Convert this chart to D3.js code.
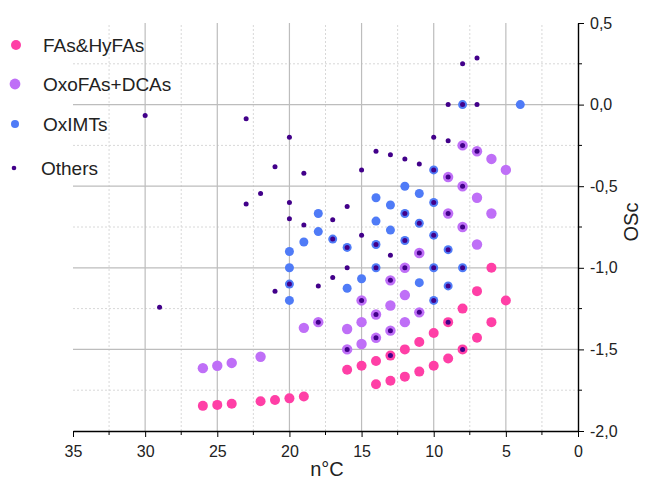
<!DOCTYPE html>
<html lang="en">
  <head>
    <meta charset="utf-8" />
    <title>OSc vs nC</title>
    <script src="https://d3js.org/d3.v7.min.js"></script>
    <style>
      body { margin: 0; background: #fff; }
      text { font-family: "Liberation Sans", Arial, sans-serif; }
    </style>
  </head>
  <body>
    <div id="chart"></div>
    <script>
      // [n°C, OSc]
      const fasHyfas = [
        [5, -1.2], [6, -1.0], [6, -1.333], [7, -1.143], [7, -1.429], [8, -1.25], [8, -1.5],
        [9, -1.333], [9, -1.556], [10, -1.4], [10, -1.6], [11, -1.455], [11, -1.636],
        [12, -1.5], [12, -1.667], [13, -1.538], [13, -1.692], [14, -1.571], [14, -1.714],
        [15, -1.6], [16, -1.625], [19, -1.789], [20, -1.8], [21, -1.81], [22, -1.818],
        [24, -1.833], [25, -1.84], [26, -1.846]
      ];
      const oxoDcas = [
        [5, -0.4], [6, -0.333], [6, -0.667], [7, -0.286], [7, -0.571], [7, -0.857],
        [8, -0.25], [8, -0.5], [8, -0.75], [9, -0.444], [9, -0.667], [11, -0.909],
        [11, -1.273], [12, -1.0], [12, -1.167], [12, -1.333], [13, -1.077], [13, -1.231],
        [13, -1.385], [14, -1.286], [14, -1.429], [15, -1.2], [15, -1.333], [15, -1.467],
        [16, -1.375], [16, -1.5], [18, -1.333], [19, -1.368], [22, -1.545], [24, -1.583],
        [25, -1.6], [26, -1.615]
      ];
      const oxImts = [
        [4, 0], [8, 0], [10, -0.4], [12, -0.5], [11, -0.545], [10, -0.6], [14, -0.571],
        [13, -0.615], [12, -0.667], [11, -0.727], [10, -0.8], [18, -0.667], [18, -0.778],
        [17, -0.824], [14, -0.714], [13, -0.769], [19, -0.842], [16, -0.875], [14, -0.857],
        [12, -0.833], [9, -0.889], [20, -0.9], [20, -1.0], [14, -1.0], [10, -1.0], [8, -1.0],
        [20, -1.1], [20, -1.2], [16, -1.125], [15, -1.067], [11, -1.091], [9, -1.111],
        [10, -1.2]
      ];
      const others = [
        [7, 0.286], [8, 0.25], [9, 0], [8, 0], [7, 0], [30, -0.067], [23, -0.087],
        [20, -0.2], [10, -0.2], [9, -0.222], [8, -0.25], [7, -0.286], [14, -0.286],
        [13, -0.308], [12, -0.333], [11, -0.364], [21, -0.381], [10, -0.4], [15, -0.4],
        [19, -0.421], [9, -0.444], [8, -0.5], [22, -0.545], [20, -0.6], [10, -0.6],
        [23, -0.609], [16, -0.625], [9, -0.667], [12, -0.667], [20, -0.7], [17, -0.706],
        [11, -0.727], [19, -0.737], [8, -0.75], [15, -0.8], [10, -0.8], [17, -0.824],
        [12, -0.833], [14, -0.857], [16, -0.875], [9, -0.889], [11, -0.909], [13, -0.923],
        [16, -1.0], [14, -1.0], [12, -1.0], [10, -1.0], [8, -1.0], [17, -1.059],
        [13, -1.077], [20, -1.1], [18, -1.111], [9, -1.111], [21, -1.143], [15, -1.2],
        [10, -1.2], [29, -1.241], [11, -1.273], [14, -1.286], [18, -1.333], [9, -1.333],
        [13, -1.385], [14, -1.429], [16, -1.5], [8, -1.5], [13, -1.538]
      ];

      const seriesNames = ["FAs&HyFAs", "OxoFAs+DCAs", "OxIMTs", "Others"];
      const xTicks = [35, 30, 25, 20, 15, 10, 5, 0];
      const yTicks = [-2.0, -1.5, -1.0, -0.5, 0.0, 0.5];

      const width = 649, height = 493;
      const colors = ["#ff3fa6", "#bf6ff7", "#4f7bf7", "#42008a"];
      const radius = [5, 5.2, 4.5, 2.5];
      const legendR = [5, 5.4, 4, 2.3];

      const fmt = d3.formatLocale({
        decimal: ",", thousands: ".", grouping: [3], currency: ["", ""], minus: "-"
      }).format(".1f");

      const x = d3.scaleLinear().domain([35, 0]).range([73, 578]);
      const y = d3.scaleLinear().domain([-2, 0.5]).range([431, 23]);

      const svg = d3.select("#chart").append("svg")
        .attr("width", width).attr("height", height);

      // grid: minor dotted, major solid
      const minorX = d3.range(2.5, 35, 5);
      const minorY = d3.range(-1.75, 0.5, 0.5);
      const grid = svg.append("g");
      grid.selectAll(".mx").data(minorX).enter().append("line")
        .attr("x1", d => x(d)).attr("x2", d => x(d))
        .attr("y1", y(-2)).attr("y2", y(0.5))
        .attr("stroke", "#d8d8d8").attr("stroke-dasharray", "2,2");
      grid.selectAll(".my").data(minorY).enter().append("line")
        .attr("x1", x(35)).attr("x2", x(0))
        .attr("y1", d => y(d)).attr("y2", d => y(d))
        .attr("stroke", "#d8d8d8").attr("stroke-dasharray", "2,2");
      grid.selectAll(".gx").data(xTicks.filter(d => d > 0 && d < 35)).enter().append("line")
        .attr("x1", d => x(d)).attr("x2", d => x(d))
        .attr("y1", y(-2)).attr("y2", y(0.5))
        .attr("stroke", "#bdbdbd").attr("stroke-width", 1.2);
      grid.selectAll(".gy").data(yTicks.filter(d => d > -2 && d < 0.5)).enter().append("line")
        .attr("x1", x(35)).attr("x2", x(0))
        .attr("y1", d => y(d)).attr("y2", d => y(d))
        .attr("stroke", "#bdbdbd").attr("stroke-width", 1.2);

      // points, drawn in series order
      [fasHyfas, oxoDcas, oxImts, others].forEach((data, i) => {
        svg.append("g").selectAll("circle").data(data).enter().append("circle")
          .attr("cx", d => x(d[0]))
          .attr("cy", d => y(d[1]))
          .attr("r", radius[i])
          .attr("fill", colors[i]);
      });

      // axes
      const xAxis = svg.append("g")
        .attr("transform", `translate(0,${y(-2)})`)
        .call(d3.axisBottom(x).tickValues(xTicks).tickFormat(d3.format("d"))
          .tickSize(6).tickSizeOuter(0).tickPadding(9));
      xAxis.append("g").selectAll("line").data(minorX).enter().append("line")
        .attr("x1", d => x(d)).attr("x2", d => x(d)).attr("y1", 0).attr("y2", 4)
        .attr("stroke", "#000");

      const yAxis = svg.append("g")
        .attr("transform", `translate(${x(0)},0)`)
        .call(d3.axisRight(y).tickValues(yTicks).tickFormat(fmt)
          .tickSize(6).tickSizeOuter(0).tickPadding(6));
      yAxis.append("g").selectAll("line").data(minorY).enter().append("line")
        .attr("y1", d => y(d)).attr("y2", d => y(d)).attr("x1", 0).attr("x2", 4)
        .attr("stroke", "#000");

      svg.selectAll(".domain").attr("stroke-width", 1.4);
      svg.selectAll(".tick text").style("font-size", "16px").attr("fill", "#222");

      svg.append("text")
        .attr("x", 327).attr("y", 476)
        .attr("text-anchor", "middle")
        .style("font-size", "20px").attr("fill", "#222")
        .text("n°C");

      svg.append("text")
        .attr("transform", `translate(638,222) rotate(-90)`)
        .attr("text-anchor", "middle")
        .style("font-size", "20px").attr("fill", "#222")
        .text("OSc");

      // legend
      const legendY = [45, 84, 124, 168];
      const legendX = [16, 15, 15, 14];
      const legend = svg.append("g");
      seriesNames.forEach((name, i) => {
        legend.append("circle")
          .attr("cx", legendX[i]).attr("cy", legendY[i])
          .attr("r", legendR[i]).attr("fill", colors[i]);
        legend.append("text")
          .attr("x", i === 3 ? 41 : 43).attr("y", legendY[i] + 7)
          .style("font-size", "19px").attr("fill", "#222")
          .text(name);
      });
    </script>
  </body>
</html>
